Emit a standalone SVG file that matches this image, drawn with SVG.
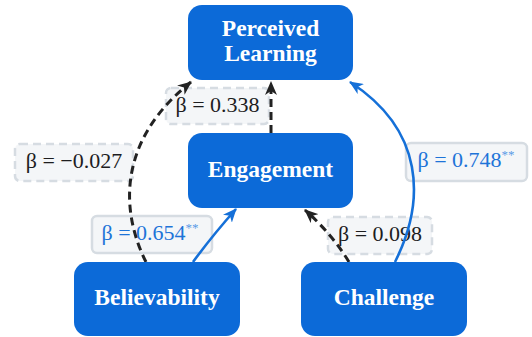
<svg xmlns="http://www.w3.org/2000/svg" width="532" height="337" viewBox="0 0 532 337">
<style>
.node rect{fill:#0c6ad8;}
.node text{fill:#fff;font-family:"Liberation Serif","Times New Roman",serif;font-weight:bold;font-size:23.5px;text-anchor:middle;}
.lbl rect{fill:#f4f6f8;stroke:#d6dce2;stroke-width:2.5;}
.lbl.ns rect{stroke-dasharray:8 5;}
.lbl text{font-family:"Liberation Serif","Times New Roman",serif;font-size:22px;text-anchor:middle;fill:#1d1d1f;}
.lbl.sig text{fill:#1e74d8;}
.lbl .st{font-size:13px;fill:#5a9be6;}
.e{fill:none;stroke-width:3;}
.e.ns{stroke:#222;stroke-dasharray:8 5;}
.e.sig{stroke:#1570d8;stroke-width:2.6;}
</style>
<defs>
<marker id="ak" viewBox="0 0 14 12" refX="13" refY="6" markerWidth="14" markerHeight="12" markerUnits="userSpaceOnUse" orient="auto">
<path d="M0,0 L14,6 L0,12 L4,6 z" fill="#222"/>
</marker>
<marker id="ab" viewBox="0 0 14 12" refX="13" refY="6" markerWidth="14" markerHeight="12" markerUnits="userSpaceOnUse" orient="auto">
<path d="M0,0 L14,6 L0,12 L4,6 z" fill="#1570d8"/>
</marker>
</defs>
<g id="labels">
<g class="lbl ns"><rect x="166" y="88" width="103" height="36" rx="5"/><text x="217.5" y="112">β = 0.338</text></g>
<g class="lbl ns"><rect x="15" y="144" width="118" height="37" rx="5"/><text x="74" y="168">β = −0.027</text></g>
<g class="lbl sig"><rect x="92" y="216" width="120" height="37" rx="5"/><text x="150" y="240">β = 0.654<tspan class="st" dy="-8">**</tspan></text></g>
<g class="lbl ns"><rect x="328" y="217" width="104" height="37" rx="5"/><text x="380" y="241">β = 0.098</text></g>
<g class="lbl sig"><rect x="406" y="143" width="121" height="38" rx="5"/><text x="466" y="167">β = 0.748<tspan class="st" dy="-8">**</tspan></text></g>
</g>
<g id="connectors">
<path class="e ns" d="M271,133 L271,82" marker-end="url(#ak)"/>
<path class="e ns" d="M146,262 C120,210 118,140 191,82" marker-end="url(#ak)"/>
<path class="e sig" d="M193,262 Q212,236 236,209" marker-end="url(#ab)"/>
<path class="e ns" d="M349,262 Q332,234 305,210" marker-end="url(#ak)"/>
<path class="e sig" d="M395,262 C426,200 424,130 350,82" marker-end="url(#ab)"/>
</g>
<g id="perceived-learning" class="node"><rect x="188" y="5" width="165" height="75" rx="14"/><text x="270.5" y="36">Perceived</text><text x="270.5" y="61">Learning</text></g>
<g id="engagement" class="node"><rect x="188" y="133" width="165" height="75" rx="14"/><text x="270.5" y="177">Engagement</text></g>
<g id="believability" class="node"><rect x="74" y="262" width="166" height="74" rx="14"/><text x="157" y="305">Believability</text></g>
<g id="challenge" class="node"><rect x="301" y="262" width="166" height="74" rx="14"/><text x="384" y="305">Challenge</text></g>
</svg>
